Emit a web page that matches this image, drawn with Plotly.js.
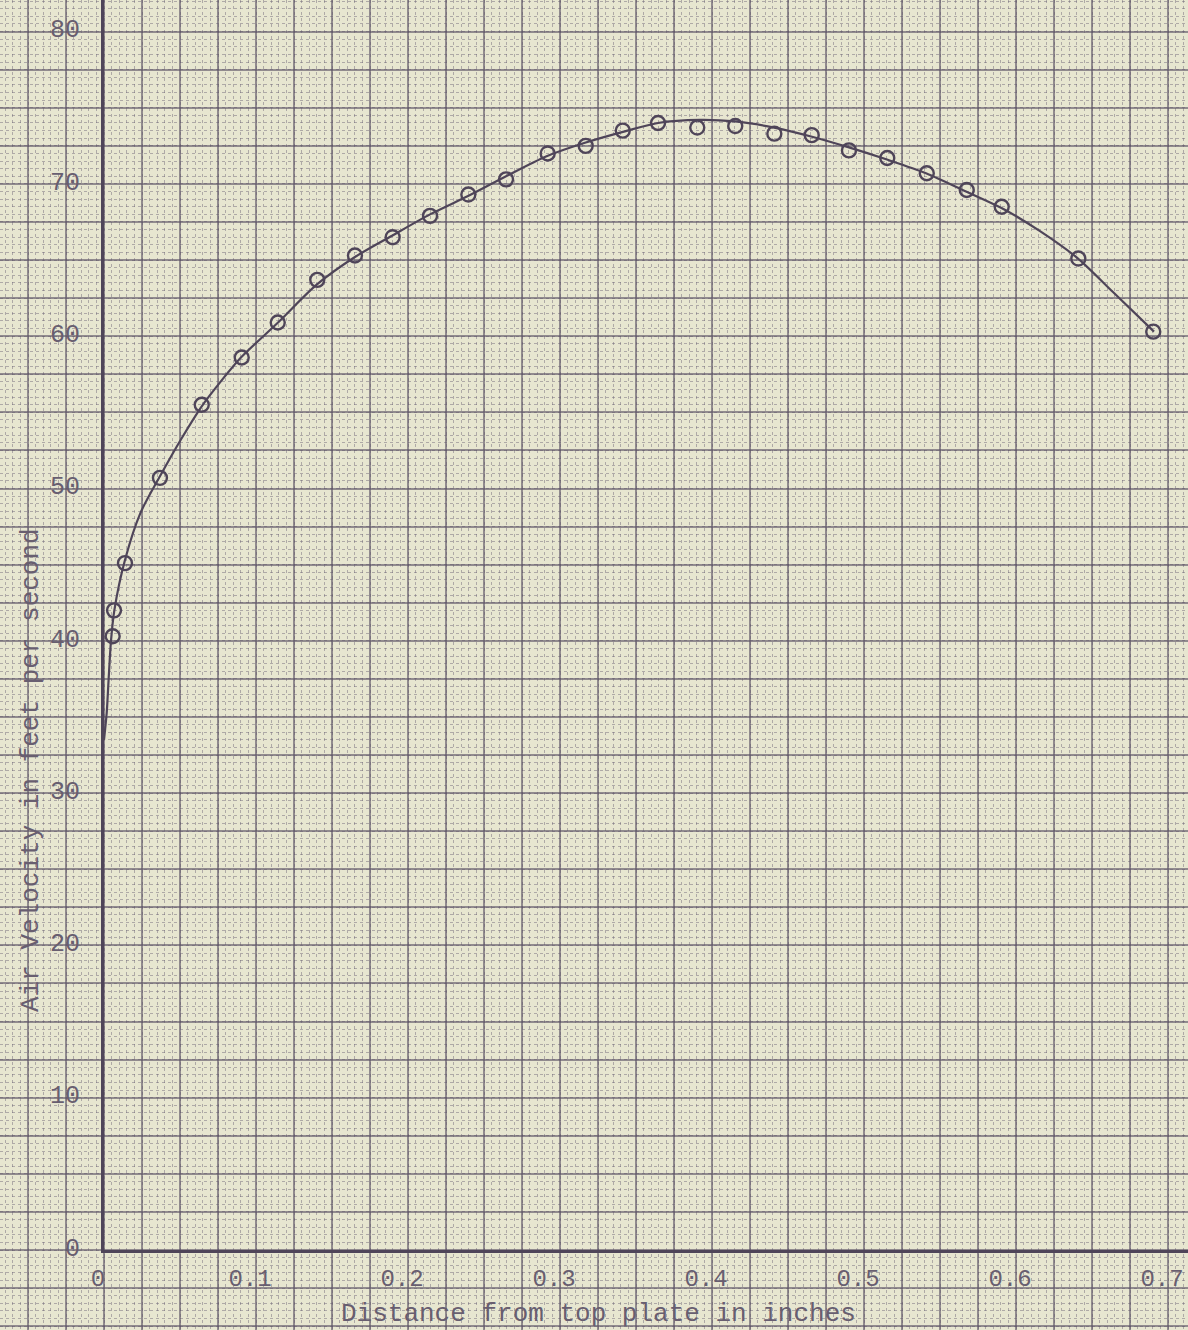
<!DOCTYPE html>
<html>
<head>
<meta charset="utf-8">
<script src="https://cdn.plot.ly/plotly-3.0.1.min.js"></script>
<style>html,body{margin:0;padding:0;background:#e7e6d0;}#chart{width:1188px;height:1330px;}</style>
</head>
<body>
<div id="chart"></div>
<script>
// Measured points (open circles): distance from top plate (in) vs air velocity (ft/s)
const pointX = [0.0057, 0.0066, 0.0138, 0.0368, 0.0643, 0.0906, 0.1143, 0.1403, 0.1651, 0.1899,
                0.2145, 0.2397, 0.2645, 0.2919, 0.3169, 0.3413, 0.3645, 0.3903, 0.4153, 0.4410,
                0.4656, 0.4901, 0.5153, 0.5413, 0.5676, 0.5906, 0.6410, 0.6903];
const pointY = [40.3, 42.0, 45.1, 50.7, 55.5, 58.6, 60.9, 63.7, 65.3, 66.5,
                67.9, 69.3, 70.3, 72.0, 72.5, 73.5, 74.0, 73.7, 73.8, 73.3,
                73.2, 72.2, 71.7, 70.7, 69.6, 68.5, 65.1, 60.3];

// Hand-drawn faired curve
const curveX = [0.0000, 0.0018, 0.0030, 0.0046, 0.0068, 0.0138, 0.0240, 0.0368, 0.0511, 0.0643,
                0.0774, 0.0901, 0.1145, 0.1401, 0.1651, 0.1895, 0.2145, 0.2395, 0.2645, 0.2908,
                0.3164, 0.3408, 0.3645, 0.3921, 0.4151, 0.4408, 0.4658, 0.4901, 0.5151, 0.5408,
                0.5671, 0.5908, 0.6158, 0.6408, 0.6638, 0.6908];
const curveY = [33.5, 35.3, 37.4, 40.0, 42.0, 45.3, 48.4, 50.8, 53.3, 55.4,
                57.1, 58.6, 60.9, 63.4, 65.2, 66.6, 68.0, 69.2, 70.5, 71.8,
                72.7, 73.4, 74.0, 74.2, 74.1, 73.7, 73.1, 72.4, 71.6, 70.7,
                69.5, 68.4, 66.9, 65.1, 62.9, 60.3];

const xTickVals = [0, 0.1, 0.2, 0.3, 0.4, 0.5, 0.6, 0.7];
const xTickText = ['0', '0.1', '0.2', '0.3', '0.4', '0.5', '0.6', '0.7'];
const yTickVals = [0, 10, 20, 30, 40, 50, 60, 70, 80];
const yTickText = ['0', '10', '20', '30', '40', '50', '60', '70', '80'];

const xTitle = 'Distance from top plate in inches';
const yTitle = 'Air Velocity in feet per second';

const ink = '#4f4559';
const textInk = '#685e70';
const mono = '"Liberation Mono", "DejaVu Sans Mono", monospace';

const traces = [
  // empty traces so the two full-page graph-paper subplots are created
  {x: [], y: [], xaxis: 'x', yaxis: 'y', mode: 'markers', hoverinfo: 'skip', showlegend: false},
  {x: [], y: [], xaxis: 'x2', yaxis: 'y2', mode: 'markers', hoverinfo: 'skip', showlegend: false},
  {x: curveX, y: curveY, xaxis: 'x3', yaxis: 'y3', mode: 'lines',
   line: {color: ink, width: 2.2, shape: 'spline', smoothing: 0.8}, hoverinfo: 'skip', showlegend: false},
  {x: pointX, y: pointY, xaxis: 'x3', yaxis: 'y3', mode: 'markers',
   marker: {symbol: 'circle-open', size: 14, color: ink, line: {width: 2.4, color: ink}}, showlegend: false}
];

const W = 1188, H = 1330;
const originPx = {x: 104, y: 1250};
const pxPerX = 1520, pxPerY = 15.23;
const xMin = -originPx.x / pxPerX, xMax = (W - originPx.x) / pxPerX;
const yMin = -(H - originPx.y) / pxPerY, yMax = originPx.y / pxPerY;

const gridMajor = 'rgba(92,82,102,0.62)';
const gridMinor = 'rgba(105,95,115,0.45)';

function paperAxis(anchor, range, step, color, width, dash) {
  return {domain: [0, 1], anchor: anchor, range: range, tickmode: 'linear', tick0: 0, dtick: step,
          showticklabels: false, ticks: '', showgrid: true, gridcolor: color, gridwidth: width, griddash: dash,
          zeroline: false, showline: false, fixedrange: true};
}

const layout = {
  width: W, height: H,
  margin: {l: 0, r: 0, t: 0, b: 0, pad: 0},
  paper_bgcolor: '#e7e6d0',
  plot_bgcolor: 'rgba(0,0,0,0)',
  font: {family: mono, color: textInk, size: 25},
  showlegend: false,
  // fine graph-paper rulings
  xaxis: paperAxis('y', [xMin, xMax], 0.005, gridMinor, 1, 'dot'),
  yaxis: paperAxis('x', [yMin, yMax], 0.5, gridMinor, 1, 'dot'),
  // main graph-paper rulings
  xaxis2: paperAxis('y2', [xMin, xMax], 0.025, gridMajor, 2, 'solid'),
  yaxis2: paperAxis('x2', [yMin, yMax], 2.5, gridMajor, 2, 'solid'),
  // data axes, origin at the lower-left corner of their domain
  xaxis3: {domain: [originPx.x / W, 1], anchor: 'y3', range: [0, xMax], showgrid: false, zeroline: false,
           showline: true, linecolor: ink, linewidth: 3, tickmode: 'array', tickvals: xTickVals, ticktext: xTickText,
           ticks: '', ticklabelstandoff: 4, ticklabelshift: -6, ticklabeloverflow: 'allow',
           tickfont: {family: mono, size: 24, color: textInk}, fixedrange: true},
  yaxis3: {domain: [(H - originPx.y) / H, 1], anchor: 'x3', range: [0, yMax], showgrid: false, zeroline: false,
           showline: true, linecolor: ink, linewidth: 3, tickmode: 'array', tickvals: yTickVals, ticktext: yTickText,
           ticks: '', ticklabelstandoff: 16, ticklabelshift: -3, ticklabeloverflow: 'allow',
           tickfont: {family: mono, size: 25, color: textInk}, fixedrange: true},
  annotations: [
    {text: xTitle, xref: 'paper', yref: 'paper', x: 598 / W, y: 1 - 1314 / H, xanchor: 'center', yanchor: 'middle',
     showarrow: false, font: {family: mono, size: 26, color: textInk}},
    {text: yTitle, xref: 'paper', yref: 'paper', x: 31 / W, y: 1 - 770 / H, xanchor: 'center', yanchor: 'middle',
     textangle: -90, showarrow: false, font: {family: mono, size: 26, color: textInk}}
  ]
};

Plotly.newPlot('chart', traces, layout, {displayModeBar: false});
</script>
</body>
</html>
